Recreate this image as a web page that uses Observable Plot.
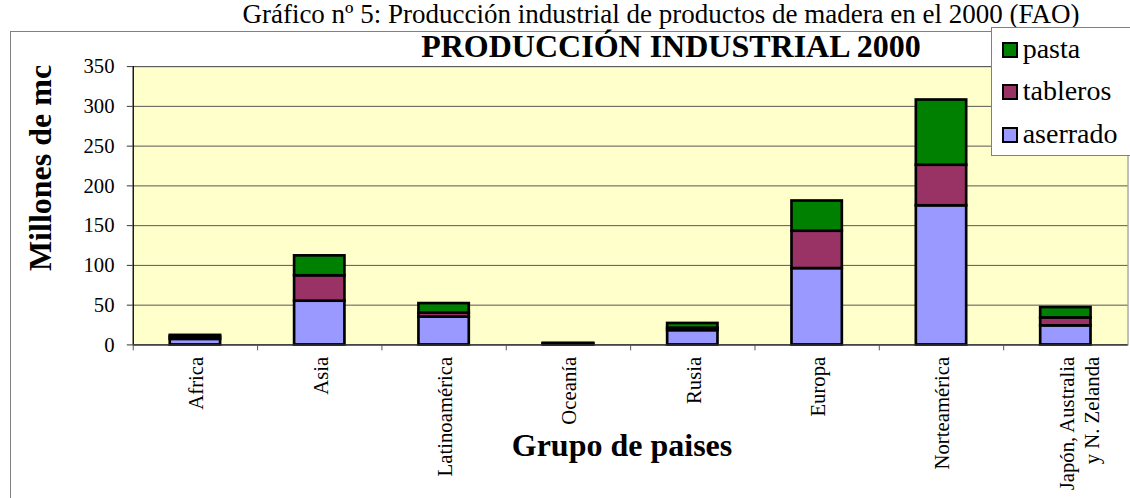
<!DOCTYPE html>
<html><head><meta charset="utf-8">
<script src="https://cdn.jsdelivr.net/npm/d3@7"></script>
<script src="https://cdn.jsdelivr.net/npm/@observablehq/plot@0.6"></script>
<style>
body{margin:0;background:#fff;overflow:hidden;font-family:"Liberation Serif",serif;}
#wrap{position:relative;width:1130px;height:498px;overflow:hidden;font-family:"Liberation Serif",serif;}
.t{position:absolute;white-space:nowrap;line-height:1.107;color:#000;font-family:"Liberation Serif",serif;}
#frame{position:absolute;left:10px;top:31px;width:1300px;height:700px;border-left:1.5px solid #808080;border-top:1.5px solid #808080;}
#legend{position:absolute;left:991px;top:27px;width:200px;height:127px;border:1.5px solid #808080;background:#fff;}
.sw{position:absolute;width:12px;height:12px;border:2px solid #000;}
</style></head><body><div id="wrap"><div id="frame"></div></div>
<script>
const pageTitle = "Gráfico nº 5: Producción industrial de productos de madera en el 2000 (FAO)";
const chartTitle = "PRODUCCIÓN INDUSTRIAL 2000";
const yLabel = "Millones de mc";
const xLabel = "Grupo de paises";
const regions = ["Africa","Asia","Latinoamérica","Oceanía","Rusia","Europa","Norteamérica","Japón, Australia\ny N. Zelanda"];
const series = ["aserrado","tableros","pasta"];
const aserrado = [7,55,35,1,18,96,175,24];
const tableros = [3,32,5,0.5,3,47,51,10];
const pasta = [2,25,12,0.5,6,38,82,13];
const yTicks = [0,50,100,150,200,250,300,350];
const colors = ["#9999FF","#993366","#008000"];

const FONT = '"Liberation Serif", serif';
const values = [aserrado, tableros, pasta];
const data = regions.flatMap((r,i) => series.map((s,j) => ({region:r, type:s, value:values[j][i]})));

const W = 1145, ML = 134.5, MR = 2.5;
const half = (W - ML - MR) / regions.length / 2;
const singleLine = regions.filter(r => !r.includes("\n"));
const multiLine = regions.filter(r => r.includes("\n"));
const xLabelOpts = {tickSize: 0, tickPadding: 12, tickRotate: -90, fontSize: 21, fontFamily: FONT, lineHeight: 1.2, label: null};

const svg = Plot.plot({
  width: W, height: 498,
  marginLeft: ML, marginRight: MR, marginTop: 67, marginBottom: 149,
  style: {fontFamily: FONT, fontSize: "21px", background: "transparent", color: "#000", overflow: "visible"},
  x: {domain: regions, paddingInner: 0.595, paddingOuter: 0.2975},
  y: {domain: [0, 350]},
  color: {domain: series, range: colors},
  marks: [
    Plot.frame({fill: "#FFFFCC", stroke: "#808080"}),
    Plot.gridY(yTicks, {stroke: "#555", strokeOpacity: 1}),
    Plot.barY(data, {x: "region", y: "value", fill: "type", order: series, stroke: "#000", strokeWidth: 2.7}),
    Plot.ruleX(regions.slice(0,1), {x: d => d, dx: -half, stroke: "#000", strokeWidth: 1.2}),
    Plot.ruleY([0], {stroke: "#333", strokeWidth: 1.2}),
    Plot.axisY(yTicks, {tickSize: 6, tickPadding: 13, fontSize: 21, fontFamily: FONT, label: null, stroke: "#333"}),
    Plot.axisX(singleLine, xLabelOpts),
    Plot.axisX(multiLine, {...xLabelOpts, dx: 13}),
    Plot.axisX({tickSize: 6, tickFormat: () => "", dx: -half, label: null, stroke: "#555"})
  ]
});
svg.style.position = "absolute";
svg.style.left = "0px";
svg.style.top = "0px";
const wrap = document.getElementById("wrap");
wrap.appendChild(svg);

function addText(parent, txt, fs, bold, cx, baseline, rotate, center) {
  const d = document.createElement("div");
  d.className = "t";
  d.textContent = txt;
  d.style.fontSize = fs + "px";
  d.style.fontFamily = FONT;
  d.style.fontWeight = bold ? "bold" : "normal";
  d.style.left = cx + "px";
  if (rotate) {
    d.style.top = baseline + "px";
    d.style.transform = "translate(-50%,-50%) rotate(-90deg)";
  } else {
    d.style.top = (baseline - 0.891 * fs) + "px";
    if (center) d.style.transform = "translateX(-50%)";
  }
  parent.appendChild(d);
}
addText(wrap, pageTitle, 27, false, 661, 24.5, false, true);
addText(wrap, chartTitle, 32, true, 671, 58, false, true);
addText(wrap, yLabel, 32, true, 41, 168, true, true);
addText(wrap, xLabel, 32, true, 622, 457, false, true);

const lg = document.createElement("div");
lg.id = "legend";
wrap.appendChild(lg);
series.slice().reverse().forEach((s, k) => {
  const base = 56.7 + k * 42.5 - 27;
  const sw = document.createElement("div");
  sw.className = "sw";
  sw.style.background = colors[series.indexOf(s)];
  sw.style.left = (1001 - 991) + "px";
  sw.style.top = (base - 16) + "px";
  lg.appendChild(sw);
  addText(lg, s, 28, false, 1021.7 - 991, base, false, false);
});
</script></body></html>
